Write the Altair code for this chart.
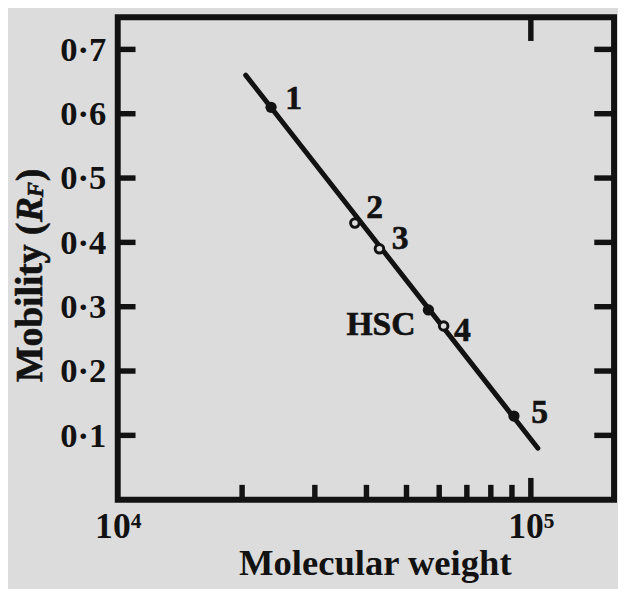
import altair as alt
import pandas as pd

# ---- data ----
mol_weight = [23500, 37500, 43000, 56500, 61500, 91000]
mobility = [0.61, 0.43, 0.39, 0.295, 0.27, 0.13]
names = ["1", "2", "3", "HSC", "4", "5"]
filled = [True, False, False, True, False, True]

line_mw = [20400, 104000]
line_rf = [0.66, 0.08]

y_ticks = [0.1, 0.2, 0.3, 0.4, 0.5, 0.6, 0.7]
x_minor = [20000, 30000, 40000, 50000, 60000, 70000, 80000, 90000]
x_major = [100000]
x_labels = [10000, 100000]

# ---- styling ----
W, H = 502, 488
INK = "#121212"
BG = "#dcdcdc"
FONT = "Liberation Serif"

pts = pd.DataFrame({"mw": mol_weight, "rf": mobility, "name": names, "filled": filled})
line_df = pd.DataFrame({"mw": line_mw, "rf": line_rf})
yt = pd.DataFrame({"v": y_ticks})
xm = pd.DataFrame({"v": x_minor})
xM = pd.DataFrame({"v": x_major})

xs = alt.Scale(type="log", domain=[10000, 159000], nice=False)
ys = alt.Scale(domain=[0, 0.75], nice=False, zero=False)

x_axis = alt.Axis(values=x_labels, labelExpr="datum.value == 10000 ? '10⁴' : '10⁵'",
                  ticks=False, domain=False, grid=False,
                  labelFont=FONT, labelFontWeight="bold", labelFontSize=36, labelColor=INK,
                  labelPadding=10, labelFlush=False, labelOverlap=False,
                  title="Molecular weight", titleFont=FONT, titleFontWeight="bold",
                  titleFontSize=37, titleColor=INK, titlePadding=2, titleX=W / 2 + 9)
y_axis = alt.Axis(values=y_ticks, format=".1f", labelExpr="replace(datum.label, '.', '·')",
                  ticks=False, domain=False, grid=False,
                  labelFont=FONT, labelFontWeight="bold", labelFontSize=35, labelColor=INK,
                  labelPadding=12, labelFlush=False, labelOverlap=False, title=None)

line = alt.Chart(line_df).mark_line(color=INK, strokeWidth=5, strokeCap="round").encode(
    x=alt.X("mw:Q", scale=xs, axis=x_axis),
    y=alt.Y("rf:Q", scale=ys, axis=y_axis),
)

open_pts = alt.Chart(pts).transform_filter("!datum.filled").mark_point(
    shape="circle", size=75, filled=False, fill=BG, fillOpacity=1, stroke=INK, strokeWidth=3, opacity=1
).encode(x=alt.X("mw:Q", scale=xs), y=alt.Y("rf:Q", scale=ys))

full_pts = alt.Chart(pts).transform_filter("datum.filled").mark_circle(
    size=130, color=INK, opacity=1
).encode(x=alt.X("mw:Q", scale=xs), y=alt.Y("rf:Q", scale=ys))

offsets = {"1": (23, -8), "2": (20, -15), "3": (21, -10), "HSC": (-48, 15), "4": (19, 5), "5": (26, -3)}
label_layers = []
for n in names:
    dx, dy = offsets[n]
    label_layers.append(
        alt.Chart(pts).transform_filter(alt.datum.name == n).mark_text(
            font=FONT, fontWeight="bold", fontSize=34, color=INK, dx=dx, dy=dy,
            align="center", baseline="middle", stroke=INK, strokeWidth=0.6
        ).encode(x=alt.X("mw:Q", scale=xs), y=alt.Y("rf:Q", scale=ys), text="name:N")
    )

# inward ticks
TW = 5.5
left_ticks = alt.Chart(yt).mark_rule(color=INK, strokeWidth=TW).encode(
    y=alt.Y("v:Q", scale=ys), x=alt.value(0), x2=alt.value(18))
right_ticks = alt.Chart(yt).mark_rule(color=INK, strokeWidth=TW).encode(
    y=alt.Y("v:Q", scale=ys), x=alt.value(W - 20), x2=alt.value(W))
bottom_minor = alt.Chart(xm).mark_rule(color=INK, strokeWidth=TW).encode(
    x=alt.X("v:Q", scale=xs), y=alt.value(H - 15), y2=alt.value(H))
bottom_major = alt.Chart(xM).mark_rule(color=INK, strokeWidth=TW).encode(
    x=alt.X("v:Q", scale=xs), y=alt.value(H - 22), y2=alt.value(H))
top_major = alt.Chart(xM).mark_rule(color=INK, strokeWidth=TW).encode(
    x=alt.X("v:Q", scale=xs), y=alt.value(0), y2=alt.value(24))

# y title built from pieces (R italic, F subscript)
def ytitle_piece(txt, y, size, italic=False, xoff=0):
    return alt.Chart(pd.DataFrame({"t": [txt]})).mark_text(
        font=FONT, fontWeight="bold", fontStyle="italic" if italic else "normal",
        fontSize=size, color=INK, angle=270, align="left", baseline="alphabetic",
        stroke=INK, strokeWidth=0.6
    ).encode(text="t:N", x=alt.value(-77 + xoff), y=alt.value(y))

yt_parts = [
    ytitle_piece("Mobility (", 369, 38),
    ytitle_piece("R", 207, 38, italic=True),
    ytitle_piece("F", 182, 23, italic=True, xoff=1),
    ytitle_piece(")", 166, 38),
]

chart = alt.layer(
    line, left_ticks, right_ticks, bottom_minor, bottom_major, top_major,
    full_pts, open_pts, *label_layers, *yt_parts
).properties(
    width=W, height=H,
    autosize=alt.AutoSizeParams(type="none"),
    padding={"left": 111, "top": 6, "right": 4, "bottom": 87},
).configure(background=BG).configure_view(stroke=INK, strokeWidth=6)

chart.save("out.html", embed_options={"renderer": "svg", "actions": False})
